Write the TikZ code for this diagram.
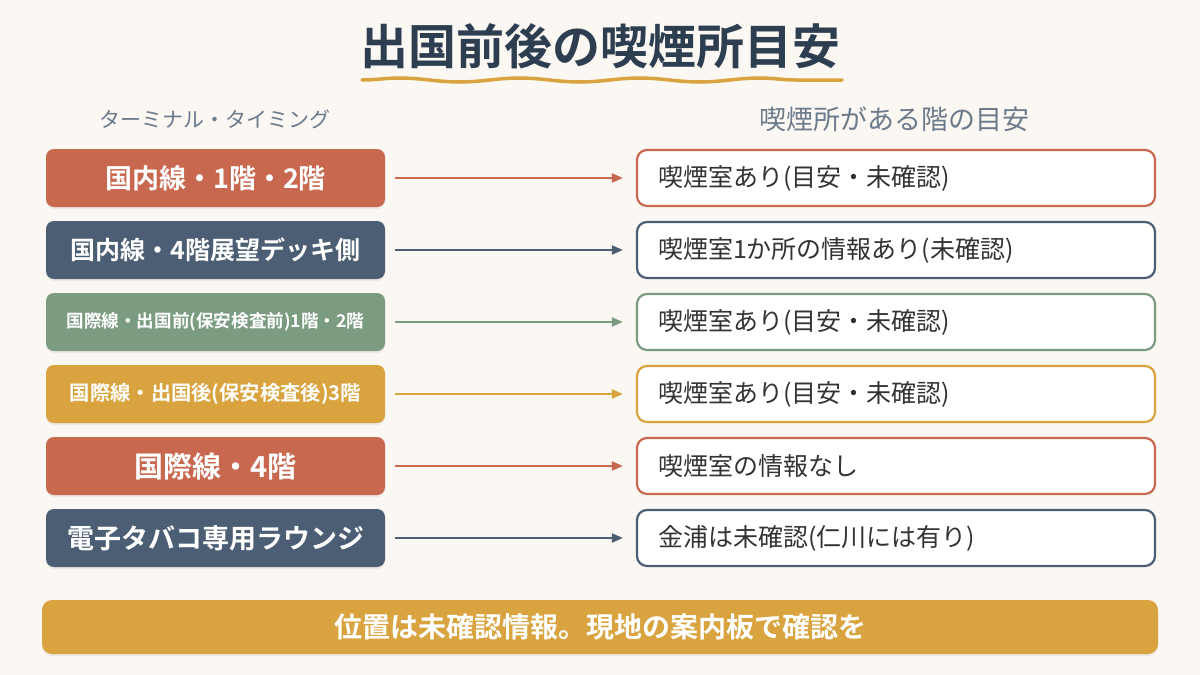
\documentclass[tikz,border=0pt]{standalone}
\usepackage{fontspec}
\setmainfont{Noto Sans CJK JP}[BoldFont={Noto Sans CJK JP Bold}]
\usetikzlibrary{arrows.meta, positioning, shadows, decorations.pathmorphing}
\definecolor{bgCream}{HTML}{FBF7F2}
\definecolor{tRed}{HTML}{C8694F}
\definecolor{tNavy}{HTML}{4B5E73}
\definecolor{tGreen}{HTML}{7C9C82}
\definecolor{tGold}{HTML}{D9A43F}
\definecolor{titleDark}{HTML}{2C3E50}
\definecolor{headGray}{HTML}{6B7B8C}
\definecolor{textDark}{HTML}{333333}

\begin{document}
\begin{tikzpicture}[x=1pt, y=-1pt,
    lbox/.style={rectangle, rounded corners=8pt, fill=#1, draw=none,
                 minimum width=339pt, minimum height=58pt, inner sep=0pt,
                 text=white, align=center,
                 drop shadow={opacity=0.12, shadow xshift=0pt, shadow yshift=-2pt}},
    rbox/.style={rectangle, rounded corners=10pt, draw=#1, line width=2.2pt,
                 fill=white, minimum width=518pt, minimum height=56pt,
                 inner xsep=21pt, inner ysep=0pt, text width=476pt, align=left,
                 font=\fontsize{25pt}{28pt}\selectfont\color{textDark}},
    link/.style={draw=#1, line width=2pt, -{Triangle[length=11pt, width=9pt]}},
    head/.style={font=\fontsize{21pt}{24pt}\selectfont, text=headGray},
  ]
  \useasboundingbox[fill=bgCream] (0,0) rectangle (1200,675);

  % title and wavy rule
  \node[font=\fontsize{48pt}{54pt}\selectfont\bfseries, text=titleDark] (title) at (600,46)
    {出国前後の喫煙所目安};
  \draw[tGold, line width=3.5pt, line cap=round,
        decorate, decoration={snake, segment length=120pt, amplitude=2pt}]
    (362,80) -- (842,80);

  % column heads
  \node[head] (hl) at (215,119) {ターミナル・タイミング};
  \node[head, font=\fontsize{27pt}{30pt}\selectfont] (hr) at (894,119) {喫煙所がある階の目安};

  % terminal boxes
  \node[lbox=tRed, font=\fontsize{27pt}{30pt}\selectfont\bfseries] (t1) at (215.5,178)
    {国内線・1階・2階};
  \node[lbox=tNavy, font=\fontsize{25pt}{28pt}\selectfont\bfseries] (t2) at (215.5,250)
    {国内線・4階展望デッキ側};
  \node[lbox=tGreen, font=\fontsize{17.6pt}{20pt}\selectfont\bfseries] (t3) at (215.5,322)
    {国際線・出国前(保安検査前)1階・2階};
  \node[lbox=tGold, font=\fontsize{20.3pt}{23pt}\selectfont\bfseries] (t4) at (215.5,394)
    {国際線・出国後(保安検査後)3階};
  \node[lbox=tRed, font=\fontsize{29pt}{32pt}\selectfont\bfseries] (t5) at (215.5,466)
    {国際線・4階};
  \node[lbox=tNavy, font=\fontsize{27pt}{30pt}\selectfont\bfseries] (t6) at (215.5,538)
    {電子タバコ専用ラウンジ};

  % smoking area boxes
  \node[rbox=tRed] (s1) at (896,178) {喫煙室あり(目安・未確認)};
  \node[rbox=tNavy] (s2) at (896,250) {喫煙室1か所の情報あり(未確認)};
  \node[rbox=tGreen] (s3) at (896,322) {喫煙室あり(目安・未確認)};
  \node[rbox=tGold] (s4) at (896,394) {喫煙室あり(目安・未確認)};
  \node[rbox=tRed] (s5) at (896,466) {喫煙室の情報なし};
  \node[rbox=tNavy] (s6) at (896,538) {金浦は未確認(仁川には有り)};

  % connectors
  \draw[link=tRed] ([xshift=10pt]t1.east) -- ([xshift=-13pt]s1.west);
  \draw[link=tNavy] ([xshift=10pt]t2.east) -- ([xshift=-13pt]s2.west);
  \draw[link=tGreen] ([xshift=10pt]t3.east) -- ([xshift=-13pt]s3.west);
  \draw[link=tGold] ([xshift=10pt]t4.east) -- ([xshift=-13pt]s4.west);
  \draw[link=tRed] ([xshift=10pt]t5.east) -- ([xshift=-13pt]s5.west);
  \draw[link=tNavy] ([xshift=10pt]t6.east) -- ([xshift=-13pt]s6.west);

  % bottom note
  \node[lbox=tGold, minimum width=1116pt, minimum height=54pt, rounded corners=10pt,
        font=\fontsize{28pt}{32pt}\selectfont\bfseries] (note) at (600,627)
    {位置は未確認情報。現地の案内板で確認を};
\end{tikzpicture}
\end{document}
